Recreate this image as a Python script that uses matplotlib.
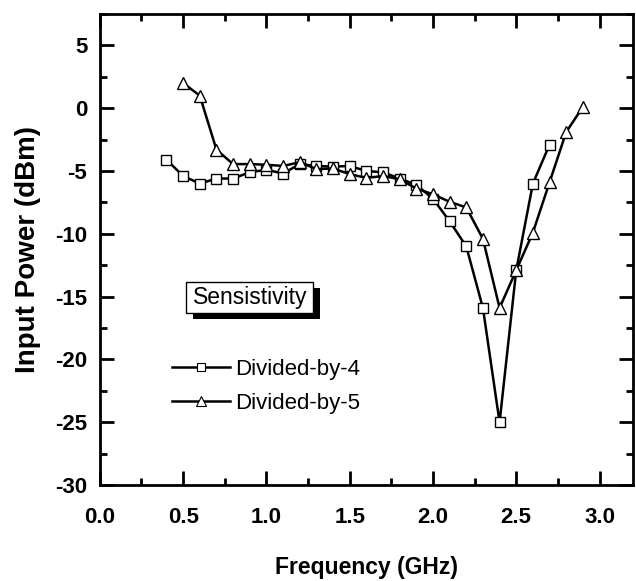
import matplotlib
matplotlib.use("Agg")
import matplotlib.pyplot as plt
from matplotlib.ticker import MultipleLocator
from matplotlib.lines import Line2D
from matplotlib.patches import Rectangle

plt.rcParams['font.family'] = ['Liberation Sans', 'DejaVu Sans']

freq4 = [0.4, 0.5, 0.6, 0.7, 0.8, 0.9, 1.0, 1.1, 1.2, 1.3, 1.4, 1.5, 1.6, 1.7,
         1.8, 1.9, 2.0, 2.1, 2.2, 2.3, 2.4, 2.5, 2.6, 2.7]
power4 = [-4.1, -5.4, -6.0, -5.6, -5.6, -5.1, -4.9, -5.2, -4.45, -4.6, -4.65, -4.6, -5.0, -5.1,
          -5.6, -6.1, -7.2, -9.0, -11.0, -15.9, -25.0, -12.9, -6.0, -2.9]
freq5 = [0.5, 0.6, 0.7, 0.8, 0.9, 1.0, 1.1, 1.2, 1.3, 1.4, 1.5, 1.6, 1.7, 1.8,
         1.9, 2.0, 2.1, 2.2, 2.3, 2.4, 2.5, 2.6, 2.7, 2.8, 2.9]
power5 = [2.0, 1.0, -3.3, -4.45, -4.45, -4.5, -4.6, -4.3, -4.85, -4.8, -5.25, -5.55, -5.4, -5.65,
          -6.4, -6.85, -7.45, -7.9, -10.4, -15.9, -12.9, -9.9, -5.9, -1.9, 0.1]
labels = ["Divided-by-4", "Divided-by-5"]
xticks = [0.0, 0.5, 1.0, 1.5, 2.0, 2.5, 3.0]
xticklabels = ['0.0', '0.5', '1.0', '1.5', '2.0', '2.5', '3.0']
yticks = [5, 0, -5, -10, -15, -20, -25, -30]
yticklabels = ['5', '0', '-5', '-10', '-15', '-20', '-25', '-30']

fig = plt.figure(figsize=(6.36, 5.81), dpi=100)
ax = fig.add_axes([0.157, 0.165, 0.838, 0.811])

ax.plot(freq4, power4, color='black', lw=1.8, marker='s', ms=7, mfc='white', mec='black', mew=1.0, zorder=3)
ax.plot(freq5, power5, color='black', lw=1.8, marker='^', ms=9, mfc='white', mec='black', mew=1.0, zorder=3)

ax.set_xlim(0, 3.2)
ax.set_ylim(-30, 7.5)
ax.set_xticks(xticks)
ax.set_xticklabels(xticklabels, fontweight='bold')
ax.set_yticks(yticks)
ax.set_yticklabels(yticklabels, fontweight='bold')
ax.xaxis.set_minor_locator(MultipleLocator(0.25))
ax.yaxis.set_minor_locator(MultipleLocator(2.5))
ax.tick_params(which='both', direction='in', top=True, right=True, width=2)
ax.tick_params(which='major', length=10, labelsize=16)
ax.tick_params(axis='x', which='major', pad=16)
ax.tick_params(axis='y', which='major', pad=9)
ax.tick_params(which='minor', length=5)
for s in ax.spines.values():
    s.set_linewidth(2)

ax.set_xlabel('Frequency (GHz)', fontsize=16.5, fontweight='bold', labelpad=20)
ax.set_ylabel('Input Power (dBm)', fontsize=20, fontweight='bold', labelpad=10)

# "Sensistivity" label box with drop shadow
ax.add_patch(Rectangle((0.56, -16.8), 0.76, 2.5, facecolor='black', edgecolor='none', zorder=4))
ax.add_patch(Rectangle((0.52, -16.3), 0.76, 2.5, facecolor='white', edgecolor='black', lw=1.0, zorder=5))
ax.text(0.90, -15.05, 'Sensistivity', fontsize=16.5, ha='center', va='center', zorder=6)

handles = [Line2D([], [], color='black', lw=1.8, marker='s', ms=6, mfc='white', mec='black', mew=0.8),
           Line2D([], [], color='black', lw=1.8, marker='^', ms=7, mfc='white', mec='black', mew=0.8)]
ax.legend(handles, labels, loc='upper left', bbox_to_anchor=(0.135, 0.268),
          frameon=False, fontsize=16, handlelength=2.6, handletextpad=0.25,
          labelspacing=0.6, borderaxespad=0, borderpad=0)

fig.savefig('out.png', dpi=100)
